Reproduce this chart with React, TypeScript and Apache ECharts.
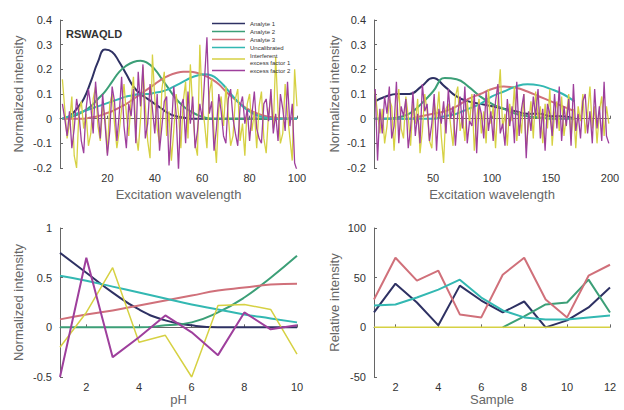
import React, { useEffect, useRef } from "react";
import * as echarts from "echarts";

// ---------- Data ----------
const seriesNames = [
  "Analyte 1",
  "Analyte 2",
  "Analyte 3",
  "Uncalibrated",
  "Interferent excess factor 1",
  "excess factor 2",
];
const colors = ["#2e3163", "#3c9f77", "#d0707a", "#33b8b2", "#d6d143", "#9e3f9c"];

// Top-left: excitation wavelength 1..100
const tlX = [1, 4, 7, 10, 13, 16, 19, 22, 25, 28, 31, 34, 37, 40, 43, 46, 49, 52, 55, 58, 61, 64, 67, 70, 73, 76, 79, 82, 85, 88, 91, 94, 97, 100];
const tlA1 = [0, 0.01, 0.04, 0.08, 0.15, 0.23, 0.28, 0.27, 0.23, 0.18, 0.13, 0.1, 0.08, 0.06, 0.04, 0.02, 0.01, 0.005, 0, 0, 0, 0, 0, 0, 0, 0, 0, 0, 0, 0, 0, 0, 0, 0];
const tlA2 = [0, 0.005, 0.015, 0.03, 0.05, 0.08, 0.11, 0.15, 0.19, 0.215, 0.23, 0.235, 0.225, 0.2, 0.16, 0.12, 0.08, 0.05, 0.03, 0.015, 0.005, 0, 0, 0, 0, 0, 0, 0, 0, 0, 0, 0, 0, 0];
const tlA3 = [0, 0, 0, 0, 0.005, 0.01, 0.02, 0.03, 0.045, 0.06, 0.08, 0.1, 0.12, 0.14, 0.16, 0.175, 0.185, 0.19, 0.19, 0.185, 0.175, 0.16, 0.14, 0.11, 0.085, 0.06, 0.04, 0.025, 0.015, 0.008, 0.004, 0, 0, 0];
const tlUn = [0, 0.01, 0.02, 0.03, 0.04, 0.05, 0.06, 0.07, 0.08, 0.09, 0.095, 0.1, 0.1, 0.105, 0.11, 0.12, 0.135, 0.15, 0.165, 0.175, 0.18, 0.175, 0.155, 0.125, 0.09, 0.06, 0.035, 0.018, 0.008, 0.002, 0, 0, 0, 0];
const tlYellow = [0.16, 0.04, -0.08, -0.02, 0.09, -0.15, -0.2, 0.03, 0.07, -0.04, 0.02, -0.11, -0.06, 0.08, 0.13, -0.03, -0.09, 0.05, 0.01, -0.14, 0.06, 0.1, -0.02, -0.12, -0.05, 0.04, 0.14, 0.02, -0.07, 0.08, 0.17, -0.06, -0.13, 0.0, 0.21, 0.05, -0.09, -0.16, 0.26, 0.08, -0.04, -0.1, 0.12, 0.19, -0.07, 0.03, -0.17, -0.05, 0.1, 0.02, -0.12, 0.07, 0.15, -0.08, 0.22, 0.04, -0.1, -0.15, 0.3, 0.06, -0.02, -0.12, 0.1, 0.16, -0.06, -0.18, 0.04, 0.09, -0.03, 0.13, 0.01, -0.11, -0.07, 0.08, 0.12, -0.09, -0.02, -0.15, 0.06, 0.1, -0.05, 0.03, -0.12, 0.05, 0.11, -0.08, -0.14, 0.02, 0.09, -0.04, 0.25, 0.03, -0.1, -0.06, 0.14, 0.02, -0.08, -0.17, 0.2, 0.05];
const tlPurple = [0.06, 0.0, -0.07, 0.03, -0.12, -0.04, 0.08, 0.02, -0.09, -0.14, 0.04, 0.12, 0.05, -0.06, 0.15, 0.03, -0.08, 0.1, -0.02, -0.15, -0.05, 0.13, 0.07, -0.09, 0.02, 0.17, -0.03, -0.12, 0.06, 0.01, 0.12, -0.1, 0.19, 0.05, 0.22, -0.08, -0.02, 0.14, 0.04, -0.06, 0.1, -0.13, -0.03, 0.07, 0.09, -0.19, -0.04, 0.13, 0.02, -0.21, 0.05, 0.08, -0.1, 0.11, -0.02, 0.09, -0.12, -0.05, 0.06, 0.0, 0.16, 0.33, 0.02, 0.07, -0.13, -0.04, 0.1, 0.03, -0.07, -0.1, 0.08, 0.12, 0.0, -0.06, -0.11, 0.05, 0.09, -0.02, 0.04, -0.09, 0.02, 0.11, -0.04, -0.08, -0.1, 0.06, 0.08, -0.01, 0.12, -0.06, 0.02, -0.09, 0.1, 0.04, -0.05, 0.15, -0.03, 0.06, -0.18, -0.21];

// Top-right: excitation wavelength 1..200
const trX = [1, 10, 20, 30, 40, 50, 60, 70, 80, 90, 100, 110, 120, 130, 140, 150, 160, 170];
const trA1 = [0.07, 0.09, 0.1, 0.1, 0.13, 0.165, 0.13, 0.09, 0.07, 0.06, 0.05, 0.04, 0.03, 0.02, 0.02, 0.01, 0.01, 0.0];
const trA2 = [0, 0, 0.005, 0.02, 0.06, 0.11, 0.165, 0.16, 0.13, 0.09, 0.06, 0.04, 0.02, 0.01, 0.005, 0, 0, 0];
const trA3 = [0, 0, 0, 0, 0.01, 0.02, 0.03, 0.05, 0.08, 0.1, 0.12, 0.13, 0.125, 0.11, 0.09, 0.07, 0.05, 0.03];
const trUn = [0, 0, 0, 0, 0, 0, 0.01, 0.02, 0.04, 0.06, 0.09, 0.11, 0.13, 0.14, 0.135, 0.12, 0.1, 0.07];
const trYellow = [0.11, 0.02, -0.06, 0.04, -0.1, -0.03, 0.08, 0.05, -0.13, 0.02, 0.12, -0.04, -0.08, 0.09, 0.01, -0.11, 0.06, -0.02, 0.08, -0.14, -0.05, 0.1, 0.03, -0.09, -0.12, 0.07, 0.0, 0.11, -0.07, -0.18, 0.04, 0.06, -0.03, -0.11, 0.09, 0.13, -0.05, 0.01, -0.09, 0.07, -0.02, 0.1, -0.13, 0.0, 0.08, -0.06, 0.03, -0.1, 0.12, -0.02, 0.05, -0.12, 0.07, 0.2, -0.04, 0.02, -0.11, 0.06, -0.01, 0.13, -0.09, 0.03, -0.06, 0.1, -0.12, -0.02, 0.07, -0.08, 0.11, 0.0, 0.05, -0.1, 0.06, -0.04, 0.12, -0.11, 0.02, 0.07, -0.05, 0.09, -0.07, 0.01, 0.1, -0.08, 0.04, -0.12, 0.05, -0.01, 0.1, -0.06, 0.02, 0.13, -0.04, 0.05, -0.1, 0.03, 0.09, -0.07, 0.05, -0.02];
const trPurple = [0.12, -0.17, 0.04, -0.06, 0.09, 0.02, 0.13, -0.08, -0.03, 0.15, -0.1, 0.05, 0.01, 0.08, -0.12, -0.04, 0.11, -0.07, 0.02, -0.1, 0.14, 0.03, 0.06, -0.09, -0.02, 0.1, -0.13, 0.04, -0.02, 0.07, -0.06, 0.12, 0.0, 0.05, -0.11, 0.02, 0.09, -0.04, 0.13, -0.1, -0.01, -0.03, 0.1, -0.14, 0.06, 0.02, -0.08, 0.11, -0.05, 0.03, -0.09, 0.07, 0.14, -0.06, -0.02, -0.11, 0.08, -0.03, 0.05, -0.1, 0.15, -0.07, 0.04, 0.1, -0.16, 0.03, -0.05, 0.09, 0.01, 0.12, -0.08, 0.04, -0.13, 0.06, 0.02, -0.07, 0.1, -0.04, 0.13, -0.09, 0.05, -0.03, 0.08, -0.11, 0.14, -0.05, 0.02, -0.08, 0.07, 0.1, -0.06, 0.03, -0.1, 0.12, -0.04, 0.05, -0.09, 0.15, -0.07, -0.1];

// Bottom-left: pH 1..10
const pH = [1, 2, 3, 4, 5, 6, 7, 8, 9, 10];
const phA1 = [0.75, 0.55, 0.35, 0.18, 0.07, 0.02, 0.0, 0.0, 0.0, 0.0];
const phA2 = [0, 0, 0, 0, 0.02, 0.05, 0.15, 0.3, 0.5, 0.72];
const phA3 = [0.08, 0.13, 0.17, 0.22, 0.27, 0.32, 0.37, 0.4, 0.43, 0.44];
const phUn = [0.52, 0.47, 0.41, 0.35, 0.29, 0.23, 0.18, 0.13, 0.09, 0.05];
const phYellow = [-0.2, 0.15, 0.6, -0.15, -0.08, -0.5, 0.22, 0.23, 0.18, -0.27];
const phPurple = [-0.5, 0.7, -0.3, -0.1, 0.12, -0.05, -0.28, 0.15, -0.02, 0.02];

// Bottom-right: sample 1..12
const samples = [1, 2, 3, 4, 5, 6, 7, 8, 9, 10, 11, 12];
const smA1 = [15, 44, 25, 2, 42, 27, 15, 26, 0, 7, 20, 40];
const smA2 = [null, null, null, null, null, null, 0, 11, 23, 25, 48, 15];
const smA3 = [28, 70, 47, 57, 13, 10, 53, 70, 28, 10, 52, 63];
const smUn = [22, 23, 30, 38, 48, 30, 17, 10, 8, 8, 10, 12];
const smYellow = [0, 0, 0, 0, 0, 0, 0, 0, 0, 0, 0, 0];

// Tick labels
const phTicks = [2, 4, 6, 8, 10];
const sampleTicks = [2, 4, 6, 8, 10, 12];

const pair = (xs: number[], ys: (number | null)[]) => xs.map((x, i) => [x, ys[i]]);
const idxPair = (ys: number[], start: number, step: number) => ys.map((y, i) => [start + i * step, y]);

const FONT = "'Liberation Sans', Arial, sans-serif";

export default function App() {
  const ref = useRef<HTMLDivElement>(null);

  useEffect(() => {
    if (!ref.current) return;
    const chart = echarts.init(ref.current, undefined, { renderer: "svg" });

    const gridBase = { outerBoundsMode: "none", containLabel: false };
    const grids = [
      { ...gridBase, left: 60, top: 20, width: 237, height: 148 },
      { ...gridBase, left: 374, top: 20, width: 236, height: 148 },
      { ...gridBase, left: 60, top: 228, width: 237, height: 149 },
      { ...gridBase, left: 374, top: 228, width: 236, height: 149 },
    ];

    const axisCommon = {
      axisLine: { show: true, lineStyle: { color: "#666", width: 1 } },
      axisTick: { show: true, inside: true, length: 3, lineStyle: { color: "#666" } },
      splitLine: { show: false },
      axisLabel: { color: "#333", fontSize: 11, fontFamily: FONT },
      nameTextStyle: { color: "#666", fontSize: 13, fontFamily: FONT },
    };

    const hideZero = (v: number) => (v === 0 ? "" : String(v));

    const xAxes = [
      { ...axisCommon, type: "value", gridIndex: 0, min: 0, max: 100, interval: 20, name: "Excitation wavelength", nameLocation: "middle", nameGap: 20, axisLabel: { ...axisCommon.axisLabel, margin: 4, formatter: hideZero } },
      { ...axisCommon, type: "value", gridIndex: 1, min: 0, max: 200, interval: 50, name: "Excitation wavelength", nameLocation: "middle", nameGap: 20, axisLabel: { ...axisCommon.axisLabel, margin: 4, formatter: hideZero } },
      { ...axisCommon, type: "value", gridIndex: 2, min: 1, max: 10, name: "pH", nameLocation: "middle", nameGap: 15, axisLabel: { ...axisCommon.axisLabel, margin: 4, customValues: phTicks }, axisTick: { ...axisCommon.axisTick, customValues: phTicks } },
      { ...axisCommon, type: "value", gridIndex: 3, min: 1, max: 12, name: "Sample", nameLocation: "middle", nameGap: 15, axisLabel: { ...axisCommon.axisLabel, margin: 4, customValues: sampleTicks }, axisTick: { ...axisCommon.axisTick, customValues: sampleTicks } },
    ];

    const yAxes = [
      { ...axisCommon, type: "value", gridIndex: 0, min: -0.2, max: 0.4, interval: 0.1, name: "Normalized intensity", nameLocation: "middle", nameGap: 35 },
      { ...axisCommon, type: "value", gridIndex: 1, min: -0.2, max: 0.4, interval: 0.1, name: "Normalized intensity", nameLocation: "middle", nameGap: 33 },
      { ...axisCommon, type: "value", gridIndex: 2, min: -0.5, max: 1, interval: 0.5, name: "Normalized intensity", nameLocation: "middle", nameGap: 35 },
      { ...axisCommon, type: "value", gridIndex: 3, min: -50, max: 100, interval: 50, name: "Relative intensity", nameLocation: "middle", nameGap: 33 },
    ];

    const line = (name: string, color: string, data: any[], gi: number, width: number, smooth: boolean, z = 2) => ({
      type: "line",
      name,
      data,
      xAxisIndex: gi,
      yAxisIndex: gi,
      symbol: "none",
      smooth,
      z,
      lineStyle: { color, width },
      itemStyle: { color },
    });

    const series = [
      // top-left
      line(seriesNames[0], colors[0], pair(tlX, tlA1), 0, 2, true),
      line(seriesNames[1], colors[1], pair(tlX, tlA2), 0, 2, true),
      line(seriesNames[2], colors[2], pair(tlX, tlA3), 0, 2, true),
      line(seriesNames[3], colors[3], pair(tlX, tlUn), 0, 2, true),
      line(seriesNames[4], colors[4], idxPair(tlYellow, 1, 1), 0, 1.3, false, 3),
      line(seriesNames[5], colors[5], idxPair(tlPurple, 1, 1), 0, 1.3, false, 3),
      // top-right
      line(seriesNames[0], colors[0], pair(trX, trA1), 1, 2, true),
      line(seriesNames[1], colors[1], pair(trX, trA2), 1, 2, true),
      line(seriesNames[2], colors[2], pair(trX, trA3), 1, 2, true),
      line(seriesNames[3], colors[3], pair(trX, trUn), 1, 2, true),
      line(seriesNames[4], colors[4], idxPair(trYellow, 1, 2), 1, 1.3, false, 3),
      line(seriesNames[5], colors[5], idxPair(trPurple, 1, 2), 1, 1.3, false, 3),
      // bottom-left
      line(seriesNames[0], colors[0], pair(pH, phA1), 2, 2, true),
      line(seriesNames[1], colors[1], pair(pH, phA2), 2, 2, true),
      line(seriesNames[2], colors[2], pair(pH, phA3), 2, 2, true),
      line(seriesNames[3], colors[3], pair(pH, phUn), 2, 2, true),
      line(seriesNames[4], colors[4], pair(pH, phYellow), 2, 1.5, false),
      line(seriesNames[5], colors[5], pair(pH, phPurple), 2, 2, false),
      // bottom-right
      line(seriesNames[0], colors[0], pair(samples, smA1), 3, 2, false),
      line(seriesNames[1], colors[1], pair(samples, smA2), 3, 2, false),
      line(seriesNames[2], colors[2], pair(samples, smA3), 3, 2, false),
      line(seriesNames[3], colors[3], pair(samples, smUn), 3, 2, false),
      line(seriesNames[4], colors[4], pair(samples, smYellow), 3, 1.5, false, 3),
    ];

    chart.setOption({
      animation: false,
      backgroundColor: "#fff",
      textStyle: { fontFamily: FONT },
      grid: grids,
      xAxis: xAxes,
      yAxis: yAxes,
      legend: {
        data: seriesNames,
        orient: "vertical",
        left: 212,
        top: 20,
        icon: "rect",
        itemWidth: 33,
        itemHeight: 1.5,
        itemGap: 1,
        padding: 0,
        z: 10,
        textStyle: { fontSize: 6, color: "#333", fontFamily: FONT, lineHeight: 7 },
        formatter: (n: string) => (n === "Interferent excess factor 1" ? "Interferent\nexcess factor 1" : n),
        selectedMode: false,
      },
      graphic: [
        {
          type: "text",
          left: 66,
          top: 28,
          style: { text: "RSWAQLD", fontSize: 11, fontWeight: "bold", fill: "#333", fontFamily: FONT },
        },
      ],
      series,
    });

    return () => chart.dispose();
  }, []);

  return <div ref={ref} style={{ position: "fixed", left: 0, top: 0, width: 624, height: 410 }} />;
}
